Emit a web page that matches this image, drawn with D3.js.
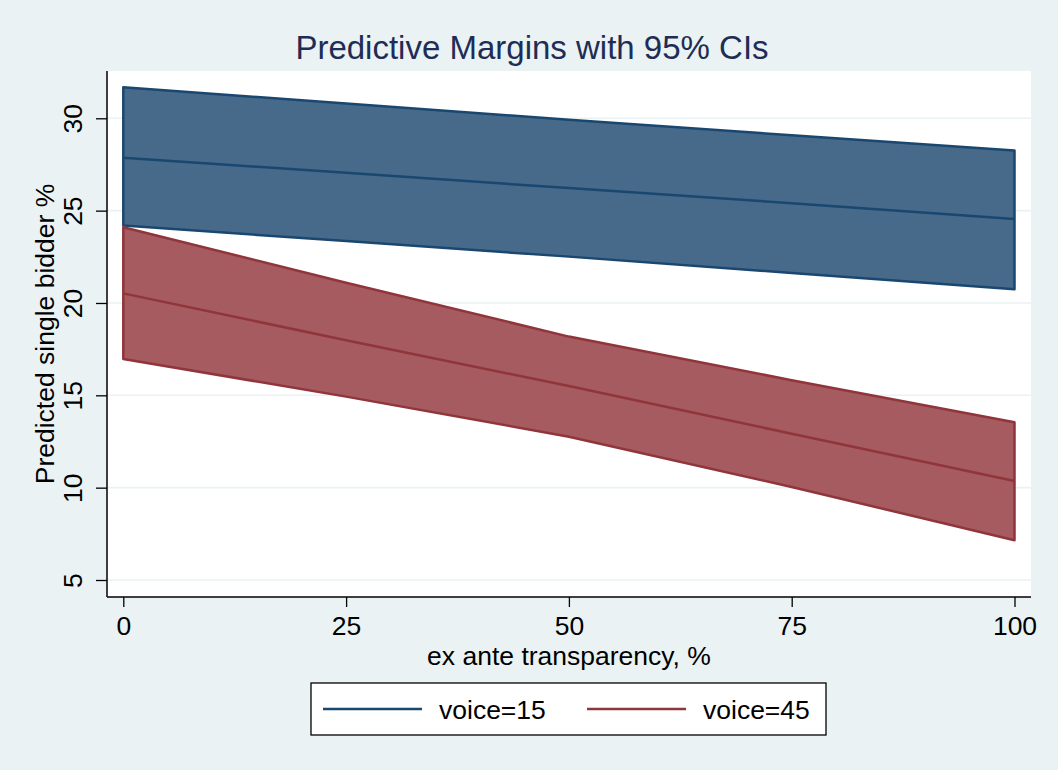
<!DOCTYPE html>
<html>
<head>
<meta charset="utf-8">
<script src="https://d3js.org/d3.v7.min.js"></script>
<style>
  html, body { margin: 0; padding: 0; background: #eaf2f3; }
  svg { display: block; font-family: "Liberation Sans", Arial, sans-serif; }
</style>
</head>
<body>
<svg id="chart" width="1058" height="770"></svg>
<script>
// ---- data ----
const xValues = [0, 25, 50, 75, 100];
const voice15Mid   = [27.87, 27.05, 26.22, 25.40, 24.55];
const voice15Lower = [24.19, 23.35, 22.51, 21.62, 20.74];
const voice15Upper = [31.68, 30.80, 29.92, 29.08, 28.25];
const voice45Mid   = [20.52, 17.98, 15.50, 12.92, 10.36];
const voice45Lower = [16.97, 14.93, 12.76, 10.04, 7.15];
const voice45Upper = [24.10, 21.10, 18.18, 15.82, 13.54];
const xTicks = [0, 25, 50, 75, 100];
const yTicks = [5, 10, 15, 20, 25, 30];
const seriesLabels = ["voice=15", "voice=45"];
const titleText = "Predictive Margins with 95% CIs";
const xTitle = "ex ante transparency, %";
const yTitle = "Predicted single bidder %";

// ---- layout ----
const W = 1058, H = 770;
const plot = { left: 107, right: 1031, top: 71, bottom: 597 };
const fontSize = 26.5;
const bg = "#eaf2f3";
const colors = [
  { fill: "#476a8a", stroke: "#1a476f" },
  { fill: "#a55b5f", stroke: "#90353b" }
];

const svg = d3.select("#chart");
svg.append("rect").attr("width", W).attr("height", H).attr("fill", bg);

const x = d3.scaleLinear().domain([0, 100]).range([123.3, 1014.5]);
const y = d3.scaleLinear().domain([5, 30]).range([580, 118.3]);

// plot region
svg.append("rect")
  .attr("x", plot.left).attr("y", plot.top)
  .attr("width", plot.right - plot.left).attr("height", plot.bottom - plot.top)
  .attr("fill", "#ffffff");

// gridlines
svg.append("g").selectAll("line").data(yTicks).join("line")
  .attr("x1", plot.left).attr("x2", plot.right)
  .attr("y1", d => y(d)).attr("y2", d => y(d))
  .attr("stroke", bg).attr("stroke-width", 1.6);

const series = [
  { mid: voice15Mid, lo: voice15Lower, hi: voice15Upper },
  { mid: voice45Mid, lo: voice45Lower, hi: voice45Upper }
];

const line = d3.line().x(d => x(d.x)).y(d => y(d.v));

series.forEach((s, i) => {
  const pts = xValues.map((xv, k) => ({ x: xv, lo: s.lo[k], hi: s.hi[k] }));
  // closed polygon including the vertical ends
  const poly = pts.map(p => [x(p.x), y(p.hi)])
    .concat(pts.slice().reverse().map(p => [x(p.x), y(p.lo)]));
  svg.append("path")
    .attr("d", "M" + poly.map(p => p.join(",")).join("L") + "Z")
    .attr("fill", colors[i].fill)
    .attr("stroke", colors[i].stroke)
    .attr("stroke-width", 2.5)
    .attr("stroke-linejoin", "round");
});
series.forEach((s, i) => {
  svg.append("path")
    .datum(xValues.map((xv, k) => ({ x: xv, v: s.mid[k] })))
    .attr("d", line)
    .attr("fill", "none")
    .attr("stroke", colors[i].stroke)
    .attr("stroke-width", 2.5);
});

// axes
const yAxis = d3.axisLeft(y).tickValues(yTicks).tickSize(11).tickPadding(0).tickFormat(d3.format("d"));
const gy = svg.append("g").attr("transform", `translate(${plot.left},0)`).call(yAxis);
gy.select(".domain").remove();
gy.selectAll(".tick line").attr("stroke", "#000").attr("stroke-width", 1.3);
gy.selectAll(".tick text")
  .attr("font-size", fontSize).attr("fill", "#000")
  .attr("text-anchor", "middle")
  .attr("dy", null)
  .attr("x", null)
  .attr("transform", `translate(-25.5,0) rotate(-90)`);
svg.append("line")
  .attr("x1", plot.left).attr("x2", plot.left)
  .attr("y1", plot.top).attr("y2", plot.bottom)
  .attr("stroke", "#000").attr("stroke-width", 1.5);

const xAxis = d3.axisBottom(x).tickValues(xTicks).tickSize(10).tickPadding(0).tickFormat(d3.format("d"));
const gx = svg.append("g").attr("transform", `translate(0,${plot.bottom})`).call(xAxis);
gx.select(".domain").remove();
gx.selectAll(".tick line").attr("stroke", "#000").attr("stroke-width", 1.3);
gx.selectAll(".tick text")
  .attr("font-size", fontSize).attr("fill", "#000")
  .attr("dy", null).attr("y", 37.5);
svg.append("line")
  .attr("x1", plot.left).attr("x2", plot.right)
  .attr("y1", plot.bottom).attr("y2", plot.bottom)
  .attr("stroke", "#000").attr("stroke-width", 1.5);

// titles
svg.append("text")
  .attr("x", 532).attr("y", 59)
  .attr("text-anchor", "middle")
  .attr("font-size", 33).attr("fill", "#1e2d55")
  .text(titleText);
svg.append("text")
  .attr("x", (plot.left + plot.right) / 2).attr("y", 664.5)
  .attr("text-anchor", "middle")
  .attr("font-size", fontSize).attr("fill", "#000")
  .text(xTitle);
svg.append("text")
  .attr("transform", `translate(54,${(plot.top + plot.bottom) / 2}) rotate(-90)`)
  .attr("text-anchor", "middle")
  .attr("font-size", fontSize).attr("fill", "#000")
  .text(yTitle);

// legend
const leg = svg.append("g");
leg.append("rect")
  .attr("x", 311).attr("y", 683).attr("width", 515).attr("height", 52)
  .attr("fill", "#fff").attr("stroke", "#000").attr("stroke-width", 1.3);
const legItems = [
  { x1: 323, x2: 422, tx: 439 },
  { x1: 587, x2: 686, tx: 703 }
];
legItems.forEach((it, i) => {
  leg.append("line")
    .attr("x1", it.x1).attr("x2", it.x2).attr("y1", 709).attr("y2", 709)
    .attr("stroke", colors[i].stroke).attr("stroke-width", 2.4);
  leg.append("text")
    .attr("x", it.tx).attr("y", 718.5)
    .attr("font-size", fontSize).attr("fill", "#000")
    .text(seriesLabels[i]);
});
</script>
</body>
</html>
